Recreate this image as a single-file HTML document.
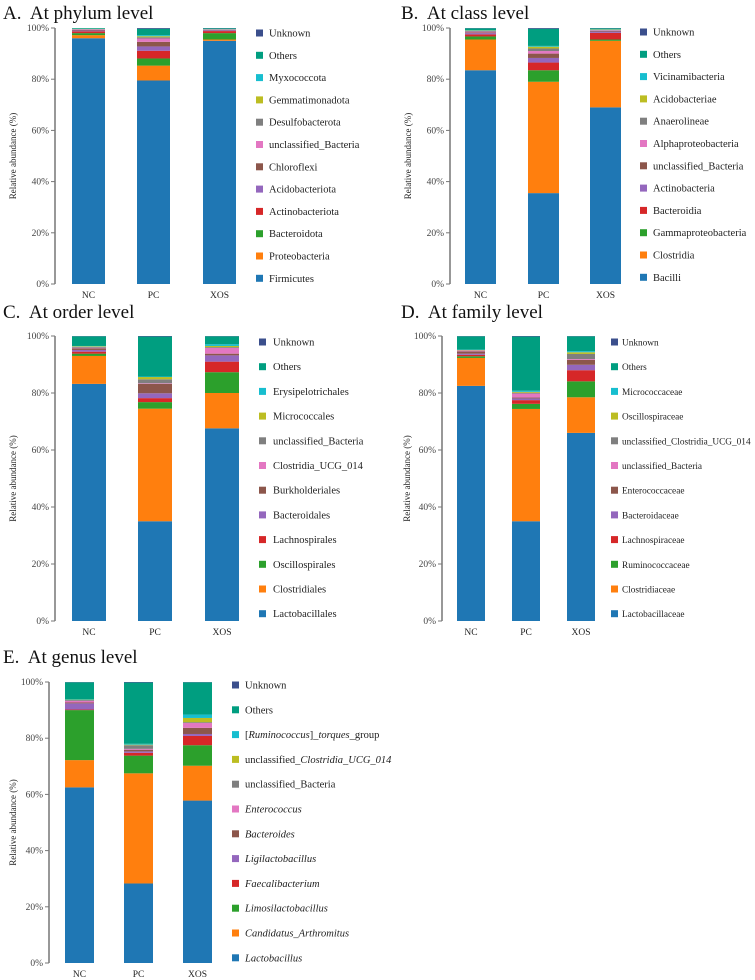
<!DOCTYPE html>
<html><head><meta charset="utf-8"><style>
html,body{margin:0;padding:0;background:#fff;}
svg{display:block;font-family:"Liberation Serif",serif;}
.ttl{white-space:pre;}
</style></head><body>
<svg id="fig" width="755" height="980" viewBox="0 0 755 980" xmlns="http://www.w3.org/2000/svg"></svg>
<script>
const groups = ["NC","PC","XOS"];
const colors = ["#1f77b4","#ff7f0e","#2ca02c","#d62728","#9467bd","#8c564b","#e377c2","#7f7f7f","#bcbd22","#17becf","#009e80","#3b4f8c"];
const ticks = [0,20,40,60,80,100];
const tickLabels = ["0%","20%","40%","60%","80%","100%"];

// Series ordered bottom -> top (last = Unknown)
const phylumLabels = ["Firmicutes","Proteobacteria","Bacteroidota","Actinobacteriota","Acidobacteriota","Chloroflexi","unclassified_Bacteria","Desulfobacterota","Gemmatimonadota","Myxococcota","Others","Unknown"];
const phylumNC  = [96,1.2,0.8,0.7,0.3,0.3,0.2,0.1,0.1,0.1,0.2,0];
const phylumPC  = [79.5,5.8,2.8,3,1.7,1.8,1.3,0.5,0.4,0.4,2.5,0.3];
const phylumXOS = [95,0.5,2.5,0.8,0.3,0.2,0.1,0.1,0.05,0.05,0.3,0.1];

const classLabels = ["Bacilli","Clostridia","Gammaproteobacteria","Bacteroidia","Actinobacteria","unclassified_Bacteria","Alphaproteobacteria","Anaerolineae","Acidobacteriae","Vicinamibacteria","Others","Unknown"];
const classNC  = [83.5,12,1.2,0.8,0.5,0.3,0.3,0.3,0.1,0.1,0.8,0.1];
const classPC  = [35.5,43.5,4.5,3,1.8,1.7,1,1,0.7,0.3,6.7,0.3];
const classXOS = [69,26,0.5,2.6,0.5,0.3,0.2,0.2,0.1,0.1,0.4,0.1];

const orderLabels = ["Lactobacillales","Clostridiales","Oscillospirales","Lachnospirales","Bacteroidales","Burkholderiales","Clostridia_UCG_014","unclassified_Bacteria","Micrococcales","Erysipelotrichales","Others","Unknown"];
const orderNC  = [83.2,9.8,0.8,0.7,0.6,0.6,0.2,0.3,0.2,0.1,3.4,0.1];
const orderPC  = [35,39.5,2.3,1.4,1.7,3.3,0.2,1.4,0.8,0.2,14,0.2];
const orderXOS = [67.6,12.4,7.3,3.7,2.2,0.6,2,0.3,0.4,0.6,2.8,0.1];

const familyLabels = ["Lactobacillaceae","Clostridiaceae","Ruminococcaceae","Lachnospiraceae","Bacteroidaceae","Enterococcaceae","unclassified_Bacteria","unclassified_Clostridia_UCG_014","Oscillospiraceae","Micrococcaceae","Others","Unknown"];
const familyNC  = [82.5,9.8,0.6,0.5,0.4,0.8,0.3,0.1,0.1,0.1,4.7,0.1];
const familyPC  = [35,39.4,1.8,1.3,0.6,0.3,1.4,0.3,0.3,0.4,19,0.2];
const familyXOS = [66,12.5,5.6,3.9,1.9,1.7,0.3,1.8,0.6,0.4,5.2,0.1];

const genusLabels = ["*Lactobacillus*","*Candidatus_Arthromitus*","*Limosilactobacillus*","*Faecalibacterium*","*Ligilactobacillus*","*Bacteroides*","*Enterococcus*","unclassified_Bacteria","unclassified_*Clostridia_UCG_014*","[*Ruminococcus*]_*torques*_group","Others","Unknown"];
const genusNC  = [62.5,9.7,17.8,0.2,2.2,0.3,0.6,0.3,0.1,0.1,6.1,0.1];
const genusPC  = [28.3,39.2,6.3,1.0,0.5,0.6,0.3,1.3,0.2,0.3,21.8,0.2];
const genusXOS = [57.8,12.4,7.3,3.3,0.7,2.2,1.7,0.3,1.5,1.2,11.5,0.1];

const panels = [
 {id:"phylum",title:"A.  At phylum level",tx:3,ty:19,labels:phylumLabels,vals:[phylumNC,phylumPC,phylumXOS],
  ax:55,yTop:28,yBot:284,bars:[72,137,203],bw:33,sq:256,lt:269,ly0:33,ldy:22.3,lfs:10.5,ylx:13},
 {id:"class",title:"B.  At class level",tx:401,ty:19,labels:classLabels,vals:[classNC,classPC,classXOS],
  ax:450,yTop:28,yBot:284,bars:[465,528,590],bw:31,sq:640,lt:653,ly0:32,ldy:22.3,lfs:10.5,ylx:408},
 {id:"order",title:"C.  At order level",tx:3,ty:318,labels:orderLabels,vals:[orderNC,orderPC,orderXOS],
  ax:55,yTop:336,yBot:621,bars:[72,138,205],bw:34,sq:259,lt:273,ly0:342,ldy:24.7,lfs:10.5,ylx:13},
 {id:"family",title:"D.  At family level",tx:401,ty:318,labels:familyLabels,vals:[familyNC,familyPC,familyXOS],
  ax:442,yTop:336,yBot:621,bars:[457,512,567],bw:28,sq:611,lt:622,ly0:342,ldy:24.7,lfs:9.3,ylx:407},
 {id:"genus",title:"E.  At genus level",tx:3,ty:663,labels:genusLabels,vals:[genusNC,genusPC,genusXOS],
  ax:49,yTop:682,yBot:963,bars:[65,124,183],bw:29,sq:232,lt:245,ly0:685,ldy:24.8,lfs:10.5,ylx:13}
];

const NS="http://www.w3.org/2000/svg";
const svg=document.getElementById("fig");
function mk(tag,attrs,parent){const e=document.createElementNS(NS,tag);for(const k in attrs)e.setAttribute(k,attrs[k]);(parent||svg).appendChild(e);return e;}

panels.forEach(p=>{
  const g=mk("g",{});
  
  
  const yScale=v=>p.yBot-(v/100)*(p.yBot-p.yTop);
  const t=mk("text",{x:p.tx,y:p.ty,"font-size":19,fill:"#111","class":"ttl"},g);
  t.textContent=p.title;
  
  
  const ax=mk("line",{x1:p.ax,x2:p.ax,y1:p.yTop,y2:p.yBot,stroke:"#777","stroke-width":1.5},g);
  
  
  ticks.forEach((tv,i)=>{
    const y=yScale(tv);
    mk("line",{x1:p.ax-4,x2:p.ax,y1:y,y2:y,stroke:"#777","stroke-width":1},g);
    const tl=mk("text",{x:p.ax-6,y:y+3,"font-size":9.5,"text-anchor":"end",fill:"#444"},g);
    tl.textContent=tickLabels[i];
    
    
  });
  const yc=(p.yTop+p.yBot)/2;
  const yl=mk("text",{x:p.ylx,y:yc,"font-size":9,"text-anchor":"middle",fill:"#222",transform:`rotate(-90 ${p.ylx} ${yc})`,dy:3},g);
  yl.textContent="Relative abundance (%)";
  
  
  groups.forEach((gname,gi)=>{
    let cum=0;
    const bx=p.bars[gi];
    p.vals[gi].forEach((v,si)=>{
      if(v<=0){cum+=v;return;}
      const y1=yScale(cum+v),y0=yScale(cum);
      const r=mk("rect",{x:bx,y:y1,width:p.bw,height:Math.max(0,y0-y1),fill:colors[si]},g);
      
      
      cum+=v;
    });
    const xl=mk("text",{x:bx+p.bw/2,y:p.yBot+14,"font-size":9.5,"text-anchor":"middle",fill:"#222"},g);
    xl.textContent=gname;
    
    
  });
  const n=p.labels.length;
  for(let k=0;k<n;k++){
    const si=n-1-k;
    const y=p.ly0+k*p.ldy;
    const s=mk("rect",{x:p.sq,y:y-3.5,width:7,height:7,fill:colors[si]},g);
    
    
    const lt=mk("text",{x:p.lt,y:y+3.5,"font-size":p.lfs,fill:"#222"},g);
    
    
    p.labels[si].split("*").forEach((part,pi)=>{
      if(!part)return;
      const ts=mk("tspan",{},lt);
      if(pi%2===1)ts.setAttribute("font-style","italic");
      ts.textContent=part;
    });
  }
});
</script>
</body></html>
